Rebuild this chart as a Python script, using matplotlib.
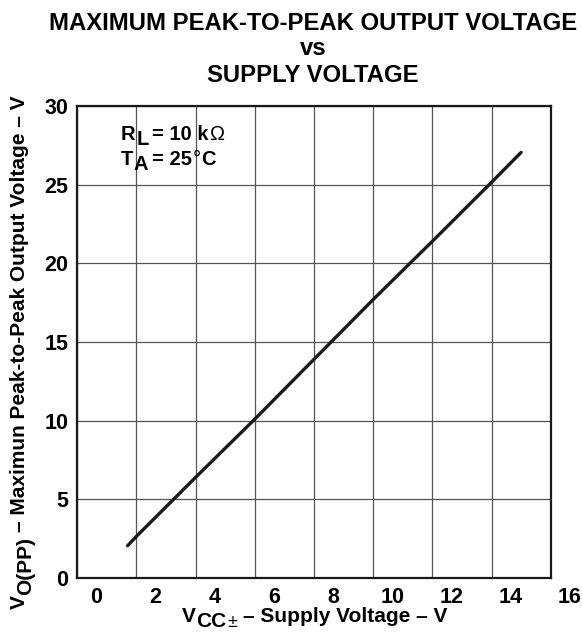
import matplotlib
matplotlib.use("Agg")
import matplotlib.pyplot as plt
from matplotlib.transforms import ScaledTranslation

plt.rcParams['font.family'] = ['Liberation Sans', 'DejaVu Sans']

# Data
supply_v = [1.7, 2.0, 4.0, 6.0, 8.0, 10.0, 12.0, 14.0, 15.0]
vopp = [2.05, 2.65, 6.4, 10.1, 13.9, 17.7, 21.4, 25.15, 27.05]
x_ticks = [0, 2, 4, 6, 8, 10, 12, 14, 16]
y_ticks = [0, 5, 10, 15, 20, 25, 30]

W, H = 582, 632
fig = plt.figure(figsize=(W / 100, H / 100), dpi=100)
ax = fig.add_axes([77.3 / W, (H - 578) / H, (550.7 - 77.3) / W, (578 - 106) / H])

ax.plot(supply_v, vopp, color='#1a1a1a', lw=2.4, solid_capstyle='round')

ax.set_xlim(0, 16)
ax.set_ylim(0, 30)
ax.set_xticks(x_ticks)
ax.set_yticks(y_ticks)
ax.set_xticklabels([str(t) for t in x_ticks], fontsize=15.5, fontweight='bold')
ax.set_yticklabels([str(t) for t in y_ticks], fontsize=15.5, fontweight='bold')
ax.tick_params(axis='both', length=0)
ax.tick_params(axis='x', pad=6.5)
ax.tick_params(axis='y', pad=6.5)
for lab in ax.get_xticklabels():
    lab.set_transform(lab.get_transform() + ScaledTranslation(0.19, 0, fig.dpi_scale_trans))

ax.grid(True, color='#555555', lw=0.9)
ax.set_axisbelow(True)
for s in ax.spines.values():
    s.set_linewidth(1.6)
    s.set_color('#1a1a1a')

renderer = fig.canvas.get_renderer()


def rich(parts, cx, cy, rotation=0, center=True):
    """parts: (string, props, lowered_px, gap_after_px). cx, cy in image pixels
    (y from top). Text is centred on (cx, cy) along its reading direction."""
    widths = []
    for s, props, _, _ in parts:
        t = fig.text(0, 0, s, **props)
        widths.append(t.get_window_extent(renderer).width)
        t.remove()
    total = sum(widths) + sum(p[3] for p in parts[:-1])
    pos = -total / 2 if center else 0
    for (s, props, low, gap), w in zip(parts, widths):
        if rotation == 0:
            x = cx + pos
            y = H - (cy + low)
            fig.text(x / W, y / H, s, ha='left', va='baseline', **props)
        else:
            x = cx + low
            y = H - cy + pos
            fig.text(x / W, y / H, s, ha='left', va='baseline', rotation=90,
                     rotation_mode='anchor', **props)
        pos += w + gap


B15 = dict(fontsize=15, fontweight='bold')
R13 = dict(fontsize=13, fontweight='normal')

# x label
rich([('V', B15, 0, 0.5), ('CC', B15, 5.5, 1), ('±', R13, 5.5, 6),
      ('– Supply Voltage – V', B15, 0, 0)], 314.5, 621.5)

# y label
rich([('V', B15, 0, 0.5), ('O(PP)', B15, 6.5, 5),
      ('– Maximun Peak-to-Peak Output Voltage – V', B15, 0, 0)], 24.5, 352, rotation=90)

# annotations
B14 = dict(fontsize=14.5, fontweight='bold')
R14 = dict(fontsize=14.5, fontweight='normal')
rich([('R', B14, 0, 0.5), ('L', B14, 5, 4), ('= 10 k', B14, 0, 0.5), ('Ω', R14, 0, 0)],
     121, 140, center=False)
rich([('T', B14, 0, 0.5), ('A', B14, 5.5, 4), ('= 25', B14, 0, 0.5), ('°', R14, 0, 0.5),
      ('C', B14, 0, 0)], 121, 165, center=False)

# title
T = dict(fontsize=17.2, fontweight='bold', ha='center', va='baseline')
fig.text(313 / W, (H - 30.5) / H, 'MAXIMUM PEAK-TO-PEAK OUTPUT VOLTAGE', **T)
fig.text(313 / W, (H - 55) / H, 'vs', **T)
fig.text(313 / W, (H - 82) / H, 'SUPPLY VOLTAGE', **T)

fig.savefig('out.png', dpi=100)
